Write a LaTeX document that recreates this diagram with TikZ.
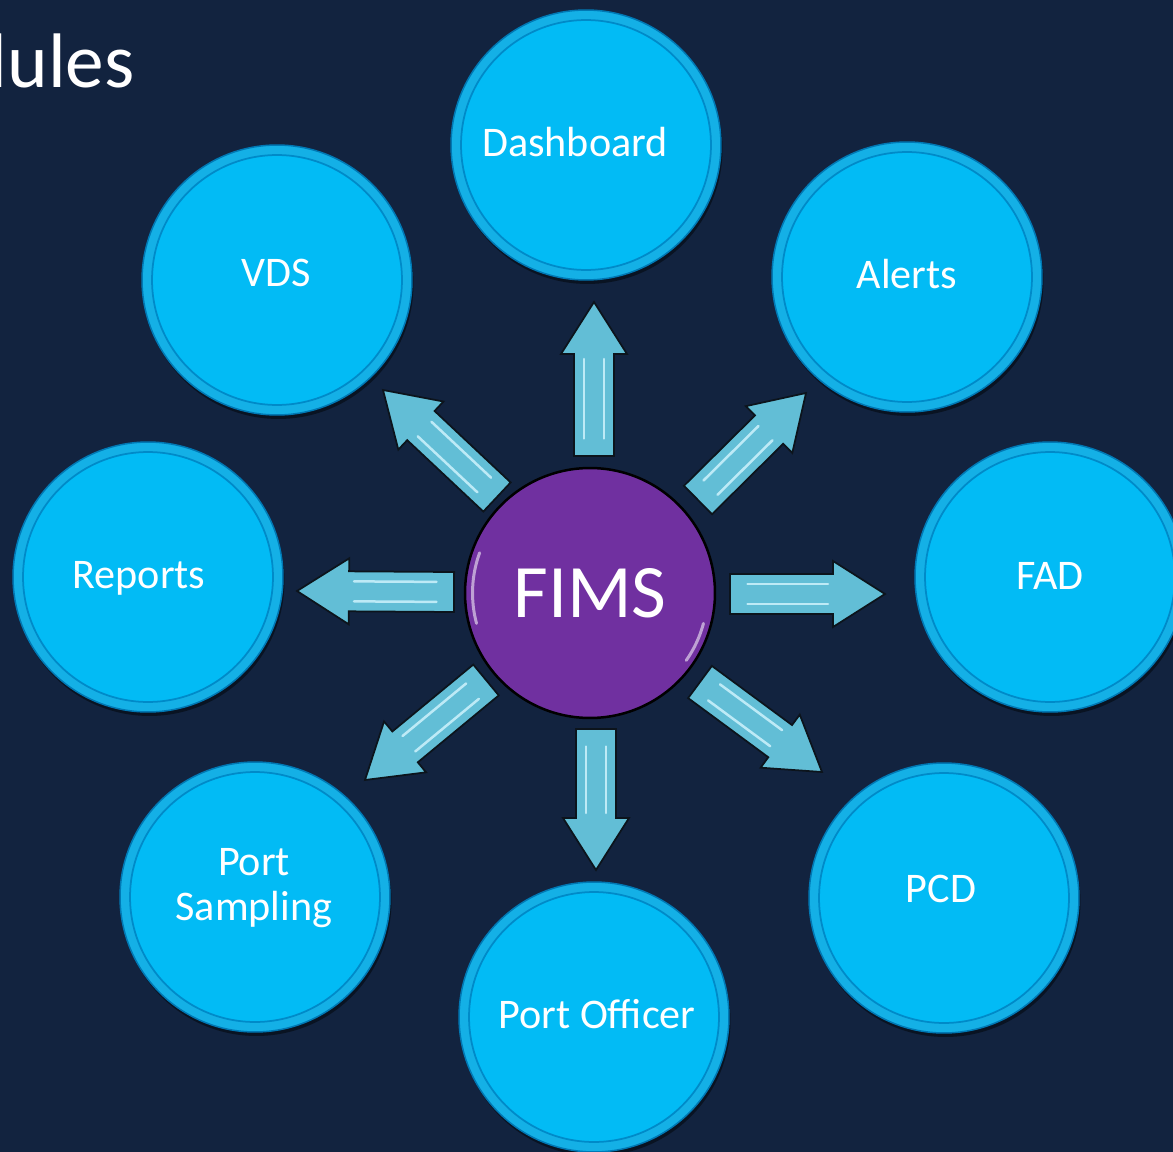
\documentclass[tikz,border=0pt]{standalone}
\usepackage{fontspec}
\setmainfont{Carlito}
\usetikzlibrary{calc,shadows}
\definecolor{bgc}{RGB}{18,35,63}
\definecolor{ringc}{RGB}{20,176,230}
\definecolor{ringedge}{RGB}{0,120,180}
\definecolor{innerc}{RGB}{2,187,245}
\definecolor{inneredge}{RGB}{0,138,200}
\definecolor{arrfillc}{RGB}{98,190,214}
\definecolor{arredgec}{RGB}{12,20,28}
\definecolor{shinec}{RGB}{205,242,252}
\definecolor{fimsc}{RGB}{112,48,160}
\tikzset{
  bubble/.style={circle, minimum size=5.4cm, inner sep=0pt, fill=ringc, draw=ringedge, line width=0.03cm,
    drop shadow={shadow xshift=0.03cm, shadow yshift=-0.08cm, opacity=0.45, fill=black},
    path picture={\fill[innerc, draw=inneredge, line width=0.035cm] (path picture bounding box.center) circle (2.5cm);}},
  lbl/.style={text=white, font=\fontsize{24}{25.5}\selectfont, anchor=base, align=center},
  arrowbody/.style={fill=arrfillc, draw=arredgec, line width=0.035cm, line join=miter},
  arrowshine/.style={draw=shinec, line width=0.05cm, opacity=0.85, line cap=round},
}
\newcommand{\blockarr}[2]{%
  \coordinate (#1h) at ($(#2)!1.04cm!(#1)$);
  \filldraw[arrowbody] ($(#1)!0.4cm!90:(#2)$) -- ($(#1h)!0.4cm!90:(#2)$) -- ($(#1h)!0.66cm!90:(#2)$) -- (#2)
     -- ($(#1h)!0.66cm!-90:(#2)$) -- ($(#1h)!0.4cm!-90:(#2)$) -- ($(#1)!0.4cm!-90:(#2)$) -- cycle;
  \draw[arrowshine] ($($(#1)!0.35cm!(#2)$)!0.2cm!90:(#2)$) -- ($($(#1h)!0.1cm!(#1)$)!0.2cm!90:(#2)$);
  \draw[arrowshine] ($($(#1)!0.35cm!(#2)$)!0.2cm!-90:(#2)$) -- ($($(#1h)!0.1cm!(#1)$)!0.2cm!-90:(#2)$);
}
\begin{document}
\begin{tikzpicture}[x=0.02cm, y=-0.02cm]
\useasboundingbox (0,0) rectangle (1173,1152);
\clip (0,0) rectangle (1173,1152);
\fill[bgc] (0,0) rectangle (1173,1152);

\node[text=white, font=\fontsize{44}{48}\selectfont, anchor=base east, inner sep=0pt] (title) at (135,88) {Modules};

% module circles
\node[bubble] (dash) at (586,145) {};
\node[bubble] (alerts) at (907,277) {};
\node[bubble] (vds) at (277,280) {};
\node[bubble] (reports) at (148,577) {};
\node[bubble] (fad) at (1050,577) {};
\node[bubble] (psamp) at (255,897) {};
\node[bubble] (pcd) at (944,898) {};
\node[bubble] (poff) at (594,1017) {};

\node[lbl] (tdash) at (575,157) {Dashboard};
\node[lbl] (talerts) at (907,289) {Alerts};
\node[lbl] (tvds) at (276,286) {VDS};
\node[lbl] (treports) at (139,588) {Reports};
\node[lbl] (tfad) at (1050,589) {FAD};
\node[lbl] (tpsamp) at (254,920) {Port\\Sampling};
\node[lbl] (tpcd) at (941,902) {PCD};
\node[lbl] (tpoff) at (597,1028) {Port Officer};

% center
\node[circle, minimum size=5cm, inner sep=0pt, fill=fimsc, draw=black, line width=0.05cm,
      text=white, font=\fontsize{43}{46}\selectfont] (fims) at (590,593) {FIMS};
\draw[white, opacity=0.55, line width=0.06cm, line cap=round] ($(fims.center)+(160:2.35cm)$) arc (160:195:2.35cm);
\draw[white, opacity=0.55, line width=0.06cm, line cap=round] ($(fims.center)+(-15:2.35cm)$) arc (-15:-35:2.35cm);

% arrows
\coordinate (tu) at (594,456);  \coordinate (pu) at (594,302);
\coordinate (td) at (596,729);  \coordinate (pd) at (596,870);
\coordinate (tr) at (730,594);  \coordinate (pr) at (885,594);
\coordinate (tl) at (454,592);  \coordinate (pl) at (297,591);
\coordinate (tur) at (698,500); \coordinate (pur) at (806,393);
\coordinate (tul) at (497,497); \coordinate (pul) at (383,390);
\coordinate (tdl) at (486,680); \coordinate (pdl) at (365,780);
\coordinate (tdr) at (700,682); \coordinate (pdr) at (822,772);
\blockarr{tu}{pu}
\blockarr{td}{pd}
\blockarr{tr}{pr}
\blockarr{tl}{pl}
\blockarr{tur}{pur}
\blockarr{tul}{pul}
\blockarr{tdl}{pdl}
\blockarr{tdr}{pdr}
\end{tikzpicture}
\end{document}
